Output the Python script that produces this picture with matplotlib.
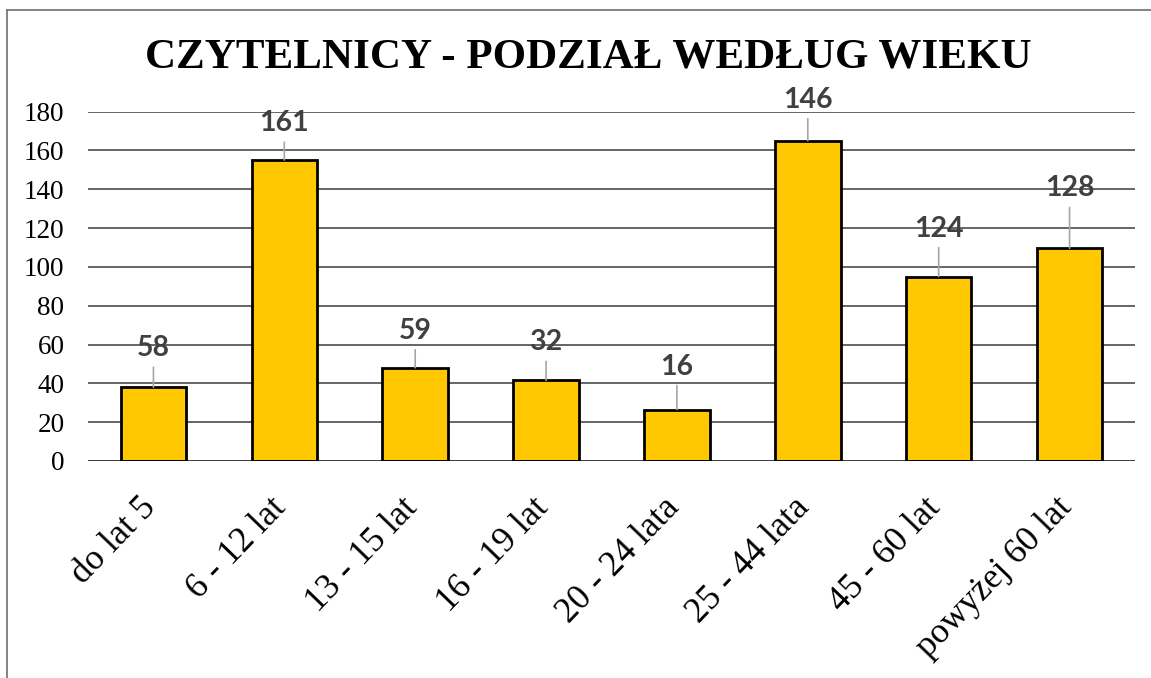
import matplotlib
matplotlib.use("Agg")
import matplotlib.pyplot as plt
from matplotlib.lines import Line2D
from matplotlib.transforms import ScaledTranslation

# ---- data ----
categories = ["do lat 5", "6 - 12 lat", "13 - 15 lat", "16 - 19 lat",
              "20 - 24 lata", "25 - 44 lata", "45 - 60 lat", "powyżej 60 lat"]
bar_heights = [38, 155, 48, 41.5, 26.5, 165, 95, 109.5]
label_values = [58, 161, 59, 32, 16, 146, 124, 128]
y_ticks = [0, 20, 40, 60, 80, 100, 120, 140, 160, 180]
title = "CZYTELNICY - PODZIAŁ WEDŁUG WIEKU"

# label offsets above bar top (pixels) - layout only
label_offsets_px = [39, 37, 37, 38, 43, 41, 48, 60]

W, H, DPI = 1151, 678, 100
fig = plt.figure(figsize=(W / DPI, H / DPI), dpi=DPI)
fig.patch.set_facecolor("white")

ax = fig.add_axes([88 / W, 1 - 461 / H, (1135 - 88) / W, (461 - 111.5) / H])
ax.set_facecolor("white")

x = list(range(len(categories)))
ax.set_xlim(-0.5, len(categories) - 0.5)
ax.set_ylim(0, 180)

# gridlines
for t in y_ticks[1:]:
    ax.axhline(t, color="#595959", lw=1.3, zorder=1)
ax.axhline(0, color="black", lw=1.8, zorder=4)

ax.bar(x, bar_heights, width=0.5, color="#FFC800", edgecolor="black",
       linewidth=2.0, zorder=3)

for spine in ax.spines.values():
    spine.set_visible(False)

ax.set_yticks(y_ticks)
ax.set_yticklabels([str(t) for t in y_ticks], fontfamily="Liberation Serif",
                   fontsize=19.5)
ax.tick_params(axis="y", length=0, pad=17)
ax.set_xticks(x)
ax.set_xticklabels(categories, fontfamily="Liberation Serif", fontsize=25.5,
                   rotation=46, ha="right", va="center", rotation_mode="anchor")
ax.tick_params(axis="x", length=0, pad=30)
shift = ScaledTranslation(-3 / DPI, 0, fig.dpi_scale_trans)
for lab in ax.get_xticklabels():
    lab.set_transform(lab.get_transform() + shift)

px2pt = 72 / DPI
for xi, h, v, off in zip(x, bar_heights, label_values, label_offsets_px):
    ax.annotate(str(v), xy=(xi, h), xytext=(0, off * px2pt),
                textcoords="offset points", ha="center", va="center",
                fontfamily="Lato", fontweight="bold", fontsize=20.5,
                color="#404040", zorder=6, annotation_clip=False)
    ax.annotate("", xy=(xi, h), xytext=(0, (off - 19) * px2pt),
                textcoords="offset points",
                arrowprops=dict(arrowstyle="-", color="#a6a6a6", lw=1.2,
                                shrinkA=0, shrinkB=0), zorder=5)

fig.text(0.511, 1 - 58 / H, title, ha="center", va="center",
         fontfamily="Liberation Serif", fontweight="bold", fontsize=31)

# outer frame (top and left lines)
fig.add_artist(Line2D([7 / W, 1.0], [1 - 10 / H, 1 - 10 / H],
                      transform=fig.transFigure, color="#6e6e6e", lw=1.2))
fig.add_artist(Line2D([7 / W, 7 / W], [0, 1 - 10 / H],
                      transform=fig.transFigure, color="#6e6e6e", lw=1.2))

fig.savefig("out.png", dpi=DPI)
